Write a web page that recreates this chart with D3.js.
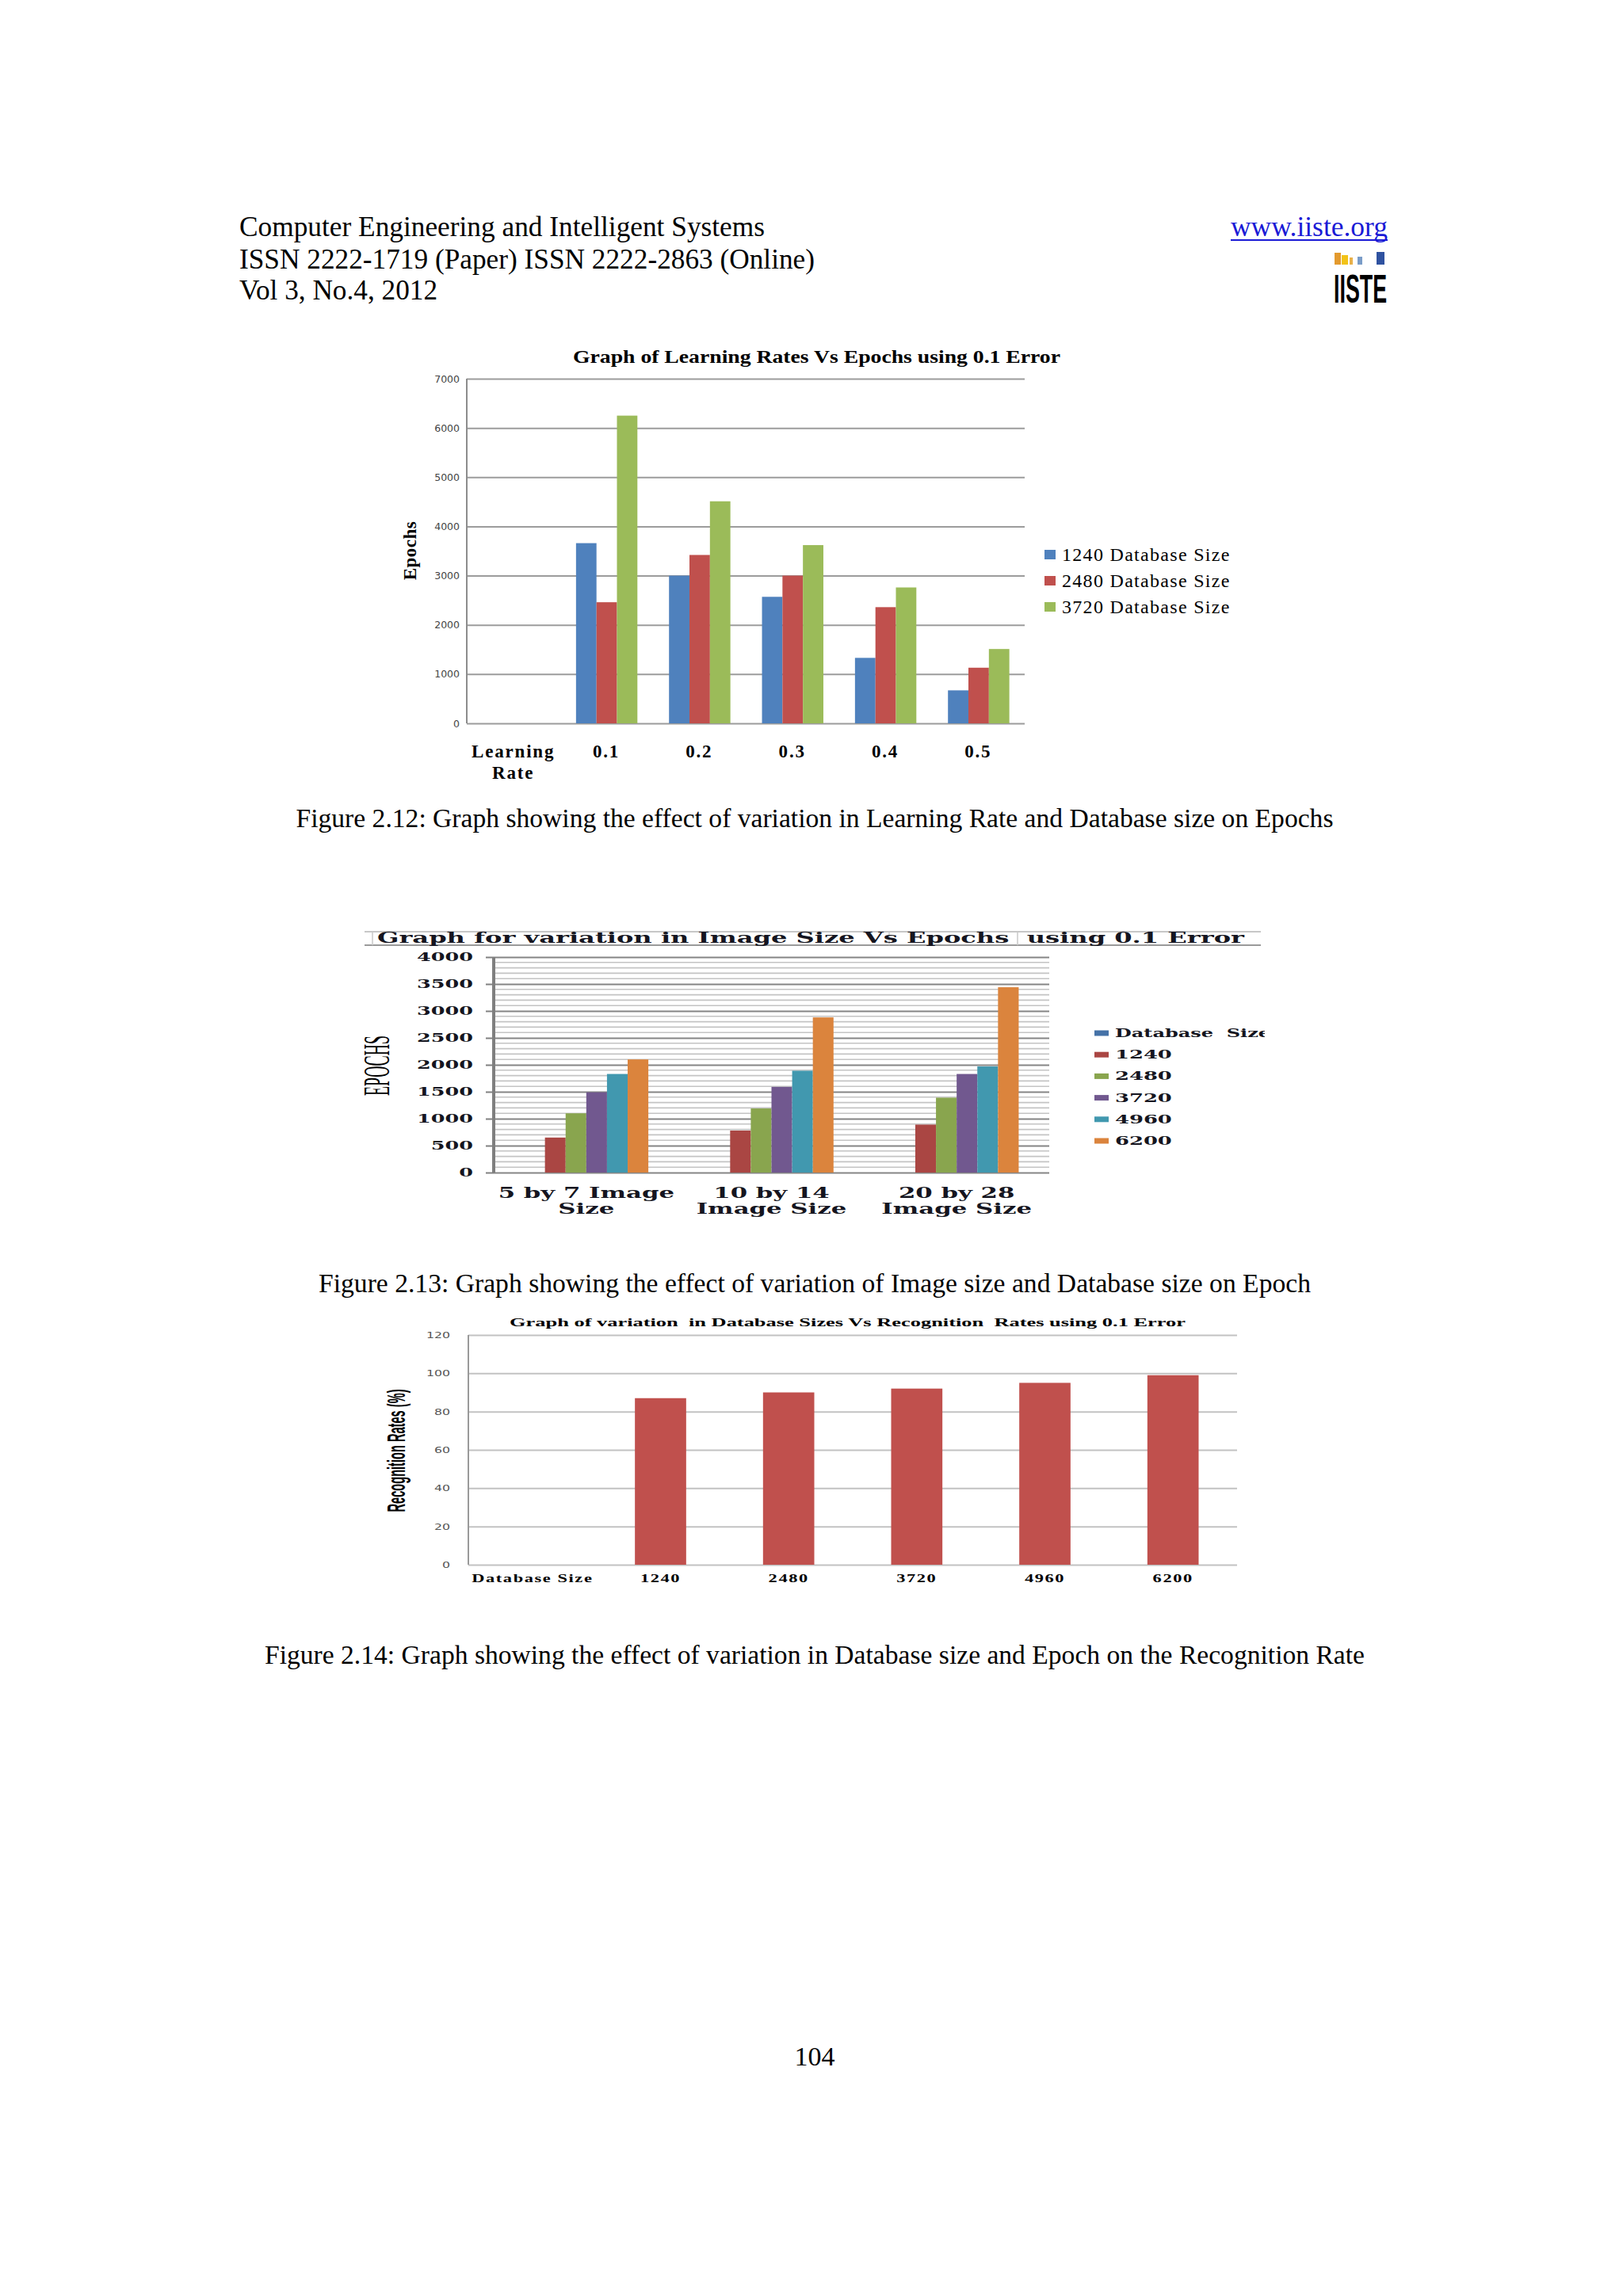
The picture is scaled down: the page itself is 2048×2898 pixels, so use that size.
<!DOCTYPE html>
<html>
<head>
<meta charset="utf-8">
<script src="https://cdn.jsdelivr.net/npm/d3@7"></script>
<style>
  body { margin: 0; background: #fff; }
  text { white-space: pre; }
</style>
</head>
<body>
<svg id="page"></svg>
<script>
const WIDTH = 2048;
const HEIGHT = 2898;

// figure 2.12 data
const lrCategories = ["Learning Rate", "0.1", "0.2", "0.3", "0.4", "0.5"];
const lrSeries = ["1240 Database Size", "2480 Database Size", "3720 Database Size"];
const lrEpochs1240 = [null, 3660, 3000, 2570, 1330, 670];
const lrEpochs2480 = [null, 2460, 3420, 3000, 2360, 1130];
const lrEpochs3720 = [null, 6250, 4510, 3620, 2760, 1510];
const lrTicks = [0, 1000, 2000, 3000, 4000, 5000, 6000, 7000];

// figure 2.13 data
const imgCategories = ["5 by 7 Image Size", "10 by 14 Image Size", "20 by 28 Image Size"];
const imgLabelLines = [["5 by 7 Image", "Size"], ["10 by 14", "Image Size"], ["20 by 28", "Image Size"]];
const imgSeries = ["Database  Size", "1240", "2480", "3720", "4960", "6200"];
const imgDatabaseSize = [null, null, null];
const imgEpochs1240 = [650, 780, 890];
const imgEpochs2480 = [1100, 1190, 1390];
const imgEpochs3720 = [1490, 1590, 1830];
const imgEpochs4960 = [1830, 1890, 1970];
const imgEpochs6200 = [2100, 2880, 3440];
const imgTicks = [0, 500, 1000, 1500, 2000, 2500, 3000, 3500, 4000];

// figure 2.14 data
const recCategories = ["Database Size", "1240", "2480", "3720", "4960", "6200"];
const recRates = [null, 87, 90, 92, 95, 99];
const recTicks = [0, 20, 40, 60, 80, 100, 120];

const SERIF = "'Liberation Serif', 'Times New Roman', serif";
const WIDE = "'DejaVu Serif', serif";

const svg = d3.select("#page").attr("width", WIDTH).attr("height", HEIGHT);
svg.append("rect").attr("width", WIDTH).attr("height", HEIGHT).attr("fill", "#fff");

// ---------- page header ----------
const header = svg.append("g").attr("font-family", SERIF).attr("font-size", 35).attr("fill", "#000");
header.append("text").attr("x", 302).attr("y", 298).attr("textLength", 663).attr("lengthAdjust", "spacingAndGlyphs")
  .text("Computer Engineering and Intelligent Systems");
header.append("text").attr("x", 302).attr("y", 339).attr("textLength", 726).attr("lengthAdjust", "spacingAndGlyphs")
  .text("ISSN 2222-1719 (Paper) ISSN 2222-2863 (Online)");
header.append("text").attr("x", 302).attr("y", 378).attr("textLength", 250).attr("lengthAdjust", "spacingAndGlyphs")
  .text("Vol 3, No.4, 2012");
header.append("text").attr("x", 1553).attr("y", 298).attr("fill", "#1a1ad6").attr("textLength", 198).attr("lengthAdjust", "spacingAndGlyphs")
  .text("www.iiste.org");
header.append("line").attr("x1", 1553).attr("x2", 1751).attr("y1", 303).attr("y2", 303)
  .attr("stroke", "#1a1ad6").attr("stroke-width", 2);

// logo
const logo = svg.append("g");
const logoBars = [
  { x: 1684, w: 8, h: 15, c: "#e39a2e" },
  { x: 1693, w: 8, h: 12, c: "#f2c318" },
  { x: 1703, w: 4, h: 9, c: "#e8b04a" },
  { x: 1713, w: 6, h: 10, c: "#7a9cc8" },
  { x: 1737, w: 10, h: 16, c: "#2f52a0" }
];
logo.selectAll("rect").data(logoBars).join("rect")
  .attr("x", d => d.x).attr("y", d => 334 - d.h).attr("width", d => d.w).attr("height", d => d.h)
  .attr("fill", d => d.c);
logo.append("text").attr("x", 1683).attr("y", 382).attr("font-family", "'Liberation Sans', Arial, sans-serif")
  .attr("font-weight", "bold").attr("font-size", 50).attr("textLength", 67).attr("lengthAdjust", "spacingAndGlyphs")
  .text("IISTE");

// ---------- figure 2.12 ----------
const c1 = { left: 589, right: 1293, top: 478, bottom: 913 };
const lrColors = ["#4f81bd", "#c0504d", "#9bbb59"];
const lrValues = [lrEpochs1240, lrEpochs2480, lrEpochs3720];

const x1 = d3.scaleBand().domain(lrCategories).range([c1.left, c1.right]);
const x1s = d3.scaleBand().domain(lrSeries).range([x1.bandwidth() * 0.175, x1.bandwidth() * 0.835]);
const y1 = d3.scaleLinear().domain([0, 7000]).range([c1.bottom, c1.top]);

const g1 = svg.append("g");
g1.append("g").attr("transform", `translate(${c1.left},0)`)
  .call(d3.axisLeft(y1).tickValues(lrTicks).tickSize(-(c1.right - c1.left)).tickPadding(9).tickFormat(d3.format("d")))
  .call(g => g.select(".domain").remove())
  .call(g => g.selectAll(".tick line").attr("stroke", "#9c9c9c").attr("stroke-width", 2))
  .call(g => g.selectAll(".tick text").attr("font-family", "'DejaVu Sans', sans-serif").attr("font-size", 12.5).attr("fill", "#444"));
g1.append("line").attr("x1", c1.left).attr("x2", c1.left).attr("y1", c1.top).attr("y2", c1.bottom)
  .attr("stroke", "#8c8c8c").attr("stroke-width", 2);

lrSeries.forEach((s, i) => {
  g1.append("g").selectAll("rect")
    .data(lrCategories.map((c, j) => ({ c, v: lrValues[i][j] })).filter(d => d.v != null))
    .join("rect")
    .attr("x", d => x1(d.c) + x1s(s))
    .attr("width", x1s.bandwidth())
    .attr("y", d => y1(d.v))
    .attr("height", d => y1(0) - y1(d.v))
    .attr("fill", lrColors[i]);
});

g1.append("text").attr("x", 723).attr("y", 458).attr("font-family", SERIF).attr("font-weight", "bold")
  .attr("font-size", 23).attr("textLength", 615).attr("lengthAdjust", "spacingAndGlyphs")
  .text("Graph of Learning Rates Vs Epochs using 0.1 Error");

g1.append("text").attr("transform", "translate(525,695) rotate(-90)").attr("text-anchor", "middle")
  .attr("font-family", SERIF).attr("font-weight", "bold").attr("font-size", 23).attr("letter-spacing", 0.5)
  .text("Epochs");

const lrLabels = g1.append("g").attr("font-family", SERIF).attr("font-weight", "bold").attr("font-size", 23)
  .attr("letter-spacing", 1.8).attr("text-anchor", "middle");
lrCategories.forEach(c => {
  const words = c === "Learning Rate" ? ["Learning", "Rate"] : [c];
  words.forEach((w, k) => {
    lrLabels.append("text").attr("x", x1(c) + x1.bandwidth() / 2).attr("y", 956 + k * 27).text(w);
  });
});

const leg1 = g1.append("g").attr("font-family", SERIF).attr("font-size", 24).attr("letter-spacing", 1.3);
lrSeries.forEach((s, i) => {
  const yy = 700 + i * 33;
  leg1.append("rect").attr("x", 1318).attr("y", yy - 6).attr("width", 14).attr("height", 12).attr("fill", lrColors[i]);
  leg1.append("text").attr("x", 1340).attr("y", yy + 8).text(s);
});

// captions
const captions = svg.append("g").attr("font-family", SERIF).attr("font-size", 34).attr("text-anchor", "middle");
captions.append("text").attr("x", 1028).attr("y", 1044).attr("textLength", 1309).attr("lengthAdjust", "spacingAndGlyphs")
  .text("Figure 2.12: Graph showing the effect of variation in Learning Rate and Database size on Epochs");
captions.append("text").attr("x", 1028).attr("y", 1631).attr("textLength", 1252).attr("lengthAdjust", "spacingAndGlyphs")
  .text("Figure 2.13: Graph showing the effect of variation of Image size and Database size on Epoch");
captions.append("text").attr("x", 1028).attr("y", 2100).attr("textLength", 1388).attr("lengthAdjust", "spacingAndGlyphs")
  .text("Figure 2.14: Graph showing the effect of variation in Database size and Epoch on the Recognition Rate");
captions.append("text").attr("x", 1028).attr("y", 2607).text("104");

// ---------- figure 2.13 ----------
const c2 = { left: 623, right: 1324, top: 1208, bottom: 1480 };
const imgColors = ["#4572a7", "#aa4643", "#89a54e", "#71588f", "#4198af", "#db843d"];
const imgValues = [imgDatabaseSize, imgEpochs1240, imgEpochs2480, imgEpochs3720, imgEpochs4960, imgEpochs6200];

const x2 = d3.scaleBand().domain(imgCategories).range([c2.left, c2.right]);
const x2s = d3.scaleBand().domain(imgSeries).range([x2.bandwidth() * 0.165, x2.bandwidth() * 0.835]);
const y2 = d3.scaleLinear().domain([0, 4000]).range([c2.bottom, c2.top]);

const wideText = (parent, x, y, str, size, sx, anchor) =>
  parent.append("text")
    .attr("transform", `translate(${x},${y}) scale(${sx},1)`)
    .attr("text-anchor", anchor)
    .attr("font-family", WIDE).attr("font-weight", "bold").attr("font-size", size)
    .attr("fill", "#151520")
    .text(str);

const g2 = svg.append("g");
// minor grid
g2.append("g").selectAll("line").data(y2.ticks(40).filter(t => t % 500 !== 0)).join("line")
  .attr("x1", c2.left).attr("x2", c2.right).attr("y1", d => y2(d)).attr("y2", d => y2(d))
  .attr("stroke", "#c4c4c4").attr("stroke-width", 1.6);
// major grid + ticks
g2.append("g").attr("transform", `translate(${c2.left},0)`)
  .call(d3.axisLeft(y2).tickValues(imgTicks).tickSize(10).tickFormat(""))
  .call(g => g.select(".domain").remove())
  .call(g => g.selectAll(".tick line").attr("stroke", "#808080").attr("stroke-width", 2))
  .call(g => g.selectAll(".tick").append("line").attr("x1", 0).attr("x2", c2.right - c2.left)
    .attr("stroke", "#858585").attr("stroke-width", 2));
g2.append("line").attr("x1", c2.left).attr("x2", c2.left).attr("y1", c2.top).attr("y2", c2.bottom)
  .attr("stroke", "#7f7f7f").attr("stroke-width", 4);

imgSeries.forEach((s, i) => {
  g2.append("g").selectAll("rect")
    .data(imgCategories.map((c, j) => ({ c, v: imgValues[i][j] })).filter(d => d.v != null))
    .join("rect")
    .attr("x", d => x2(d.c) + x2s(s))
    .attr("width", x2s.bandwidth())
    .attr("y", d => y2(d.v))
    .attr("height", d => y2(0) - y2(d.v))
    .attr("fill", imgColors[i]);
});

imgTicks.forEach(t => wideText(g2, 597, y2(t) + 5, d3.format("d")(t), 15, 1.7, "end"));

imgCategories.forEach((c, j) => {
  imgLabelLines[j].forEach((line, k) => {
    wideText(g2, x2(c) + x2.bandwidth() / 2, 1512 + k * 20, line, 19, 1.62, "middle");
  });
});

// title box
g2.append("line").attr("x1", 460).attr("x2", 1591).attr("y1", 1176).attr("y2", 1176).attr("stroke", "#b5b5b5").attr("stroke-width", 1.5);
g2.append("line").attr("x1", 460).attr("x2", 1591).attr("y1", 1193).attr("y2", 1193).attr("stroke", "#9a9a9a").attr("stroke-width", 2);
[470, 1122, 1284, 1448].forEach(xx => {
  g2.append("line").attr("x1", xx).attr("x2", xx).attr("y1", 1176).attr("y2", 1193).attr("stroke", "#c8c8c8").attr("stroke-width", 1.5);
});
g2.append("text").attr("x", 476).attr("y", 1190).attr("font-family", WIDE).attr("font-weight", "bold")
  .attr("font-size", 19).attr("fill", "#151520").attr("textLength", 1094).attr("lengthAdjust", "spacingAndGlyphs")
  .text("Graph for variation in Image Size Vs Epochs  using 0.1 Error");

g2.append("text").attr("transform", "translate(491,1345) rotate(-90)").attr("text-anchor", "middle")
  .attr("font-family", SERIF).attr("font-size", 46).attr("textLength", 76).attr("lengthAdjust", "spacingAndGlyphs")
  .text("EPOCHS");

svg.append("clipPath").attr("id", "leg2clip").append("rect").attr("x", 1370).attr("y", 1280).attr("width", 226).attr("height", 180);
const leg2 = g2.append("g").attr("clip-path", "url(#leg2clip)");
imgSeries.forEach((s, i) => {
  const yy = 1304 + i * 27.2;
  leg2.append("rect").attr("x", 1381).attr("y", yy - 3.5).attr("width", 18).attr("height", 7).attr("fill", imgColors[i]);
  wideText(leg2, 1407, yy + 5, s, 15, i === 0 ? 1.6 : 1.72, "start");
});

// ---------- figure 2.14 ----------
const c3 = { left: 591, right: 1561, top: 1685, bottom: 1975 };
const x3 = d3.scaleBand().domain(recCategories).range([c3.left, c3.right]).paddingInner(0.6).paddingOuter(0.3);
const y3 = d3.scaleLinear().domain([0, 120]).range([c3.bottom, c3.top]);
const x3full = d3.scaleBand().domain(recCategories).range([c3.left, c3.right]);

const g3 = svg.append("g");
g3.append("g").attr("transform", `translate(${c3.left},0)`)
  .call(d3.axisLeft(y3).tickValues(recTicks).tickSize(-(c3.right - c3.left)).tickFormat(""))
  .call(g => g.select(".domain").remove())
  .call(g => g.selectAll(".tick line").attr("stroke", "#c2c2c2").attr("stroke-width", 2));
g3.append("line").attr("x1", c3.left).attr("x2", c3.left).attr("y1", c3.top).attr("y2", c3.bottom)
  .attr("stroke", "#9a9a9a").attr("stroke-width", 2);

g3.append("g").selectAll("rect")
  .data(recCategories.map((c, j) => ({ c, v: recRates[j] })).filter(d => d.v != null))
  .join("rect")
  .attr("x", d => x3(d.c))
  .attr("width", x3.bandwidth())
  .attr("y", d => y3(d.v))
  .attr("height", d => y3(0) - y3(d.v))
  .attr("fill", "#c0504d");

recTicks.forEach(t => {
  g3.append("text").attr("transform", `translate(568,${y3(t) + 4}) scale(1.5,1)`).attr("text-anchor", "end")
    .attr("font-family", "'DejaVu Sans', sans-serif").attr("font-size", 10.5).attr("fill", "#555").text(t);
});

recCategories.forEach(c => {
  g3.append("text").attr("transform", `translate(${x3full(c) + x3full.bandwidth() / 2},1997) scale(1.6,1)`)
    .attr("text-anchor", "middle").attr("font-family", SERIF).attr("font-weight", "bold")
    .attr("font-size", 14).attr("letter-spacing", 1).text(c);
});

g3.append("text").attr("x", 643).attr("y", 1674).attr("font-family", SERIF).attr("font-weight", "bold")
  .attr("font-size", 14).attr("textLength", 853).attr("lengthAdjust", "spacingAndGlyphs")
  .text("Graph of variation  in Database Sizes Vs Recognition  Rates using 0.1 Error");

g3.append("text").attr("transform", "translate(511,1831) rotate(-90)").attr("text-anchor", "middle")
  .attr("font-family", "'Liberation Sans Narrow', 'Liberation Sans', Arial, sans-serif").attr("font-weight", "bold")
  .attr("font-size", 31).attr("textLength", 155).attr("lengthAdjust", "spacingAndGlyphs")
  .text("Recognition Rates (%)");
</script>
</body>
</html>
